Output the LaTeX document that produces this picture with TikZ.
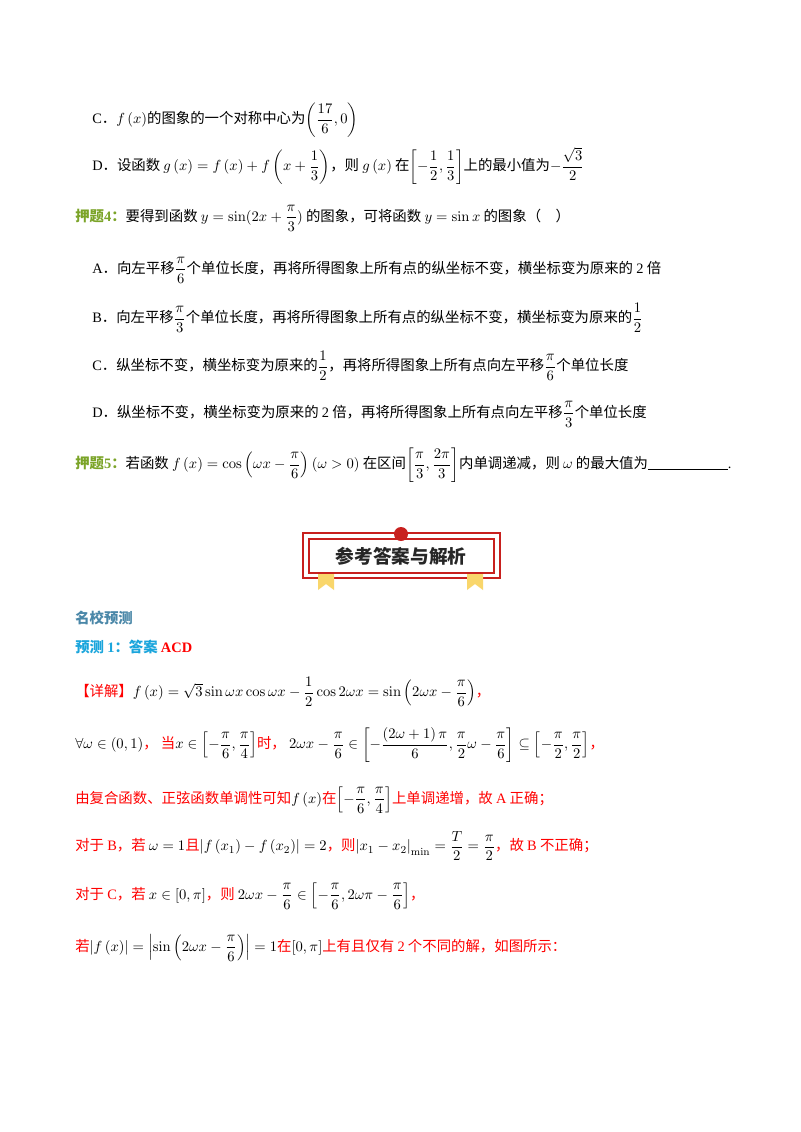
\documentclass[tikz,border=0pt]{standalone}
\usepackage{amsmath,amssymb}
\usepackage[no-math]{fontspec}
\setmainfont{Noto Sans CJK SC}
\newfontfamily\lat{Liberation Serif}
\definecolor{yagreen}{HTML}{7BA428}
\definecolor{mxblue}{HTML}{4A87A8}
\definecolor{ycblue}{HTML}{1AA5DC}
\definecolor{banred}{HTML}{C8201E}
\definecolor{ribbon}{HTML}{F9D66B}
\tikzset{ln/.style={anchor=west,inner sep=0pt,font=\fontsize{10.8}{12}\selectfont}}
\newcommand\R[1]{\textcolor{red}{#1}}
\newcommand\ds{\displaystyle}
\begin{document}
\begin{tikzpicture}[x=0.75pt,y=-0.75pt]
\useasboundingbox[fill=white] (0,0) rectangle (800,1132);
\node[ln] (c1) at (92,120) {{\lat C}．$f\left(x\right)$的图象的一个对称中心为$\ds\left(\frac{17}{6},0\right)$};
\node[ln] (d1) at (92,166) {{\lat D}．设函数 $g\left(x\right)=f\left(x\right)+f\left(x+\ds\frac13\right)$，则 $g\left(x\right)$ 在$\ds\left[-\frac12,\frac13\right]$上的最小值为$\ds-\frac{\sqrt3}{2}$};
\node[ln] (y4) at (75,218) {\textcolor{yagreen}{\bfseries 押题{\lat 4}：}要得到函数 $y=\sin(2x+\ds\frac{\pi}{3})$ 的图象，可将函数 $y=\sin x$ 的图象（\quad）};
\node[ln] (a4) at (92,270) {{\lat A}．向左平移$\ds\frac{\pi}{6}$个单位长度，再将所得图象上所有点的纵坐标不变，横坐标变为原来的 {\lat 2} 倍};
\node[ln] (b4) at (92,318) {{\lat B}．向左平移$\ds\frac{\pi}{3}$个单位长度，再将所得图象上所有点的纵坐标不变，横坐标变为原来的$\ds\frac12$};
\node[ln] (c4) at (92,366) {{\lat C}．纵坐标不变，横坐标变为原来的$\ds\frac12$，再将所得图象上所有点向左平移$\ds\frac{\pi}{6}$个单位长度};
\node[ln] (d4) at (92,414) {{\lat D}．纵坐标不变，横坐标变为原来的 {\lat 2} 倍，再将所得图象上所有点向左平移$\ds\frac{\pi}{3}$个单位长度};
\node[ln] (y5) at (75,465) {\textcolor{yagreen}{\bfseries 押题{\lat 5}：}若函数 $f\left(x\right)=\cos\left(\omega x-\ds\frac{\pi}{6}\right)\left(\omega>0\right)$ 在区间$\ds\left[\frac{\pi}{3},\frac{2\pi}{3}\right]$内单调递减，则 $\omega$ 的最大值为\rule[-1pt]{60pt}{0.8pt}{\lat .}};
% banner
\draw[banred,line width=0.8pt] (303,533) rectangle (500,578);
\draw[banred,line width=0.8pt] (309,539) rectangle (494,573);
\fill[ribbon] (318,574) -- (334,574) -- (334,590) -- (326,584) -- (318,590) -- cycle;
\fill[ribbon] (467,574) -- (483,574) -- (483,590) -- (475,584) -- (467,590) -- cycle;
\fill[banred] (401,534) circle (7);
\node[inner sep=0pt,font=\fontsize{14}{16}\selectfont\bfseries,text=black!85] (ban) at (401,556) {参考答案与解析};
\node[ln] (mx) at (75,618) {\textcolor{mxblue}{\bfseries 名校预测}};
\node[ln] (yc) at (75,647) {\textcolor{ycblue}{\bfseries 预测 {\lat 1}：答案} \textcolor{red}{\lat\bfseries ACD}};
\node[ln] (xj) at (75,692) {\R{【详解】}$f\left(x\right)=\sqrt3\sin\omega x\cos\omega x-\ds\frac12\cos2\omega x=\sin\left(2\omega x-\ds\frac{\pi}{6}\right)$\R{，}};
\node[ln] (l2) at (75,745) {$\forall\omega\in\left(0,1\right)$\R{，\ 当}$x\in\ds\left[-\frac{\pi}{6},\frac{\pi}{4}\right]$\R{时，}\ $2\omega x-\ds\frac{\pi}{6}\in\left[-\frac{\left(2\omega+1\right)\pi}{6},\frac{\pi}{2}\omega-\frac{\pi}{6}\right]\subseteq\left[-\frac{\pi}{2},\frac{\pi}{2}\right]$\R{，}};
\node[ln] (l3) at (75,800) {\R{由复合函数、正弦函数单调性可知}$f\left(x\right)$\R{在}$\ds\left[-\frac{\pi}{6},\frac{\pi}{4}\right]$\R{上单调递增，故 {\lat A} 正确；}};
\node[ln] (l4) at (75,846) {\R{对于 {\lat B}，若 }$\omega=1$\R{ 且}$\left|f\left(x_1\right)-f\left(x_2\right)\right|=2$\R{，则}$\left|x_1-x_2\right|_{\min}=\ds\frac{T}{2}=\frac{\pi}{2}$\R{，故 {\lat B} 不正确；}};
\node[ln] (l5) at (75,896) {\R{对于 {\lat C}，若 }$x\in\left[0,\pi\right]$\R{，则 }$2\omega x-\ds\frac{\pi}{6}\in\left[-\frac{\pi}{6},2\omega\pi-\frac{\pi}{6}\right]$\R{，}};
\node[ln] (l6) at (75,948) {\R{若}$\left|f\left(x\right)\right|=\left|\sin\left(2\omega x-\ds\frac{\pi}{6}\right)\right|=1$\R{ 在}$\left[0,\pi\right]$\R{上有且仅有 {\lat 2} 个不同的解，如图所示：}};
\end{tikzpicture}
\end{document}
